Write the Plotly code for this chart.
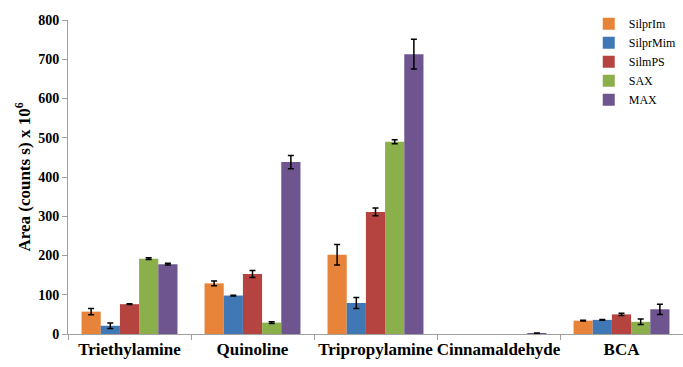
import plotly.graph_objects as go

categories = ["Triethylamine", "Quinoline", "Tripropylamine", "Cinnamaldehyde", "BCA"]
series_names = ["SilprIm", "SilprMim", "SilmPS", "SAX", "MAX"]
silprim = [57, 129, 202, None, 34]
silprim_err = [8, 6, 26, None, 1]
silprmim = [21, 98, 79, None, 36]
silprmim_err = [7, 1, 14, None, 1]
silmps = [76, 153, 311, None, 50]
silmps_err = [1, 9, 10, None, 3]
sax = [192, 29, 490, None, 31]
sax_err = [2, 2, 5, None, 7]
maxv = [178, 438, 713, 2, 63]
max_err = [2, 17, 38, 0.5, 13]

values = [silprim, silprmim, silmps, sax, maxv]
errors = [silprim_err, silprmim_err, silmps_err, sax_err, max_err]
colors = ["#E8843A", "#4077B5", "#B5433F", "#8AAF4B", "#6E5590"]

fig = go.Figure()
for name, v, e, c in zip(series_names, values, errors, colors):
    fig.add_trace(go.Bar(
        x=categories, y=v, name=name, marker=dict(color=c, line=dict(width=0)),
        error_y=dict(type="data", array=e, color="black", thickness=1.5, width=3, visible=True),
    ))

fig.update_layout(
    width=683, height=367,
    margin=dict(l=68, r=0, t=20, b=33, autoexpand=False),
    paper_bgcolor="white", plot_bgcolor="white",
    barmode="group", bargap=0.22, bargroupgap=0,
    font=dict(family="Liberation Serif", color="black"),
    legend=dict(xref="container", yref="container", x=0.862, y=0.975,
                xanchor="left", yanchor="top",
                font=dict(size=12, family="Liberation Serif"),
                bgcolor="rgba(0,0,0,0)", tracegroupgap=0),
    showlegend=True,
)
fig.update_yaxes(
    range=[0, 800], dtick=100, showgrid=False, zeroline=False,
    showline=True, linecolor="#A0A0A0", linewidth=1,
    ticks="outside", ticklen=5, tickcolor="#A0A0A0",
    tickfont=dict(size=14, family="Liberation Serif", color="black", weight="bold"),
    title=dict(text="Area (counts s) x 10<sup>6</sup>", standoff=3,
               font=dict(size=17, family="Liberation Serif", color="black", weight="bold")),
)
fig.update_xaxes(
    showgrid=False, showline=True, linecolor="#A0A0A0", linewidth=1,
    ticks="outside", tickson="boundaries", ticklen=5, tickcolor="#A0A0A0",
    tickangle=0,
    tickfont=dict(size=17, family="Liberation Serif", color="black", weight="bold"),
)

fig.write_html("out.html")
